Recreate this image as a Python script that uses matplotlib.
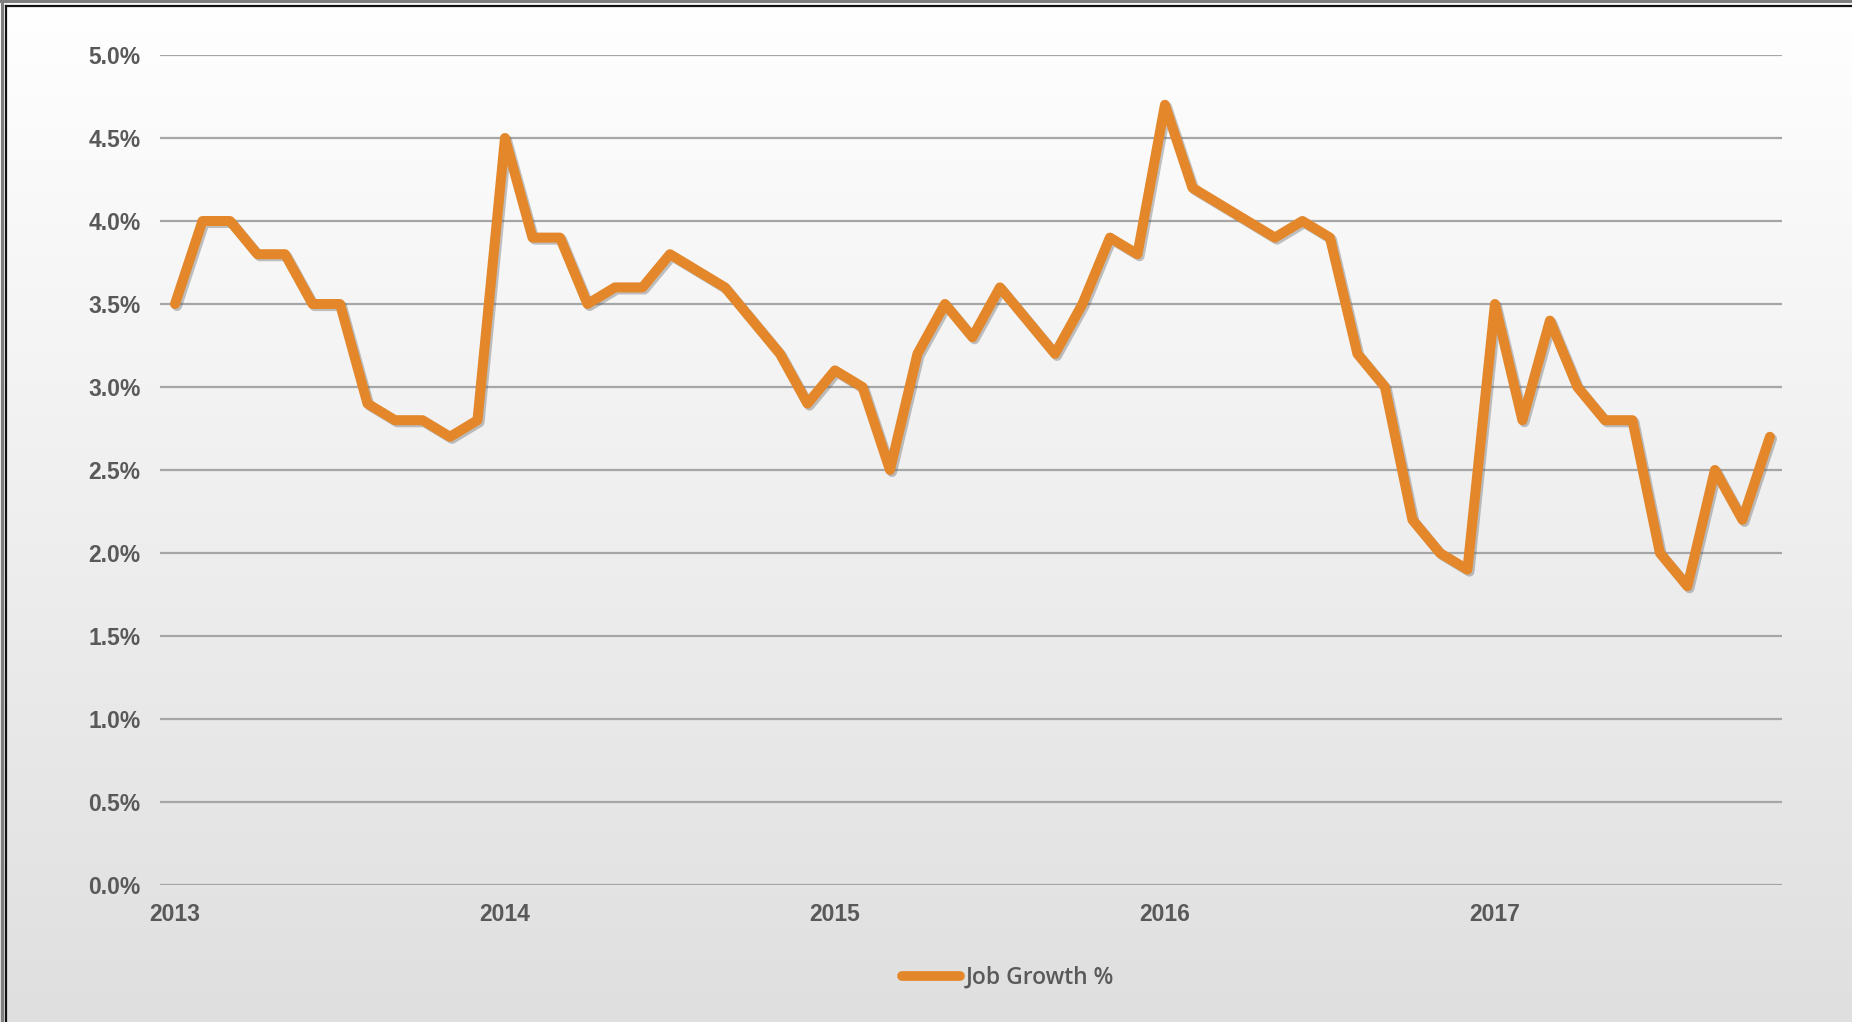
import numpy as np
import matplotlib
matplotlib.use("Agg")
import matplotlib.pyplot as plt
import matplotlib.patheffects as pe
from matplotlib.ticker import FuncFormatter

# ---- data ----
years = ["2013", "2014", "2015", "2016", "2017"]
job_growth = [3.5, 4.0, 4.0, 3.8, 3.8, 3.5, 3.5, 2.9, 2.8, 2.8, 2.7, 2.8,
              4.5, 3.9, 3.9, 3.5, 3.6, 3.6, 3.8, 3.7, 3.6, 3.4, 3.2, 2.9,
              3.1, 3.0, 2.5, 3.2, 3.5, 3.3, 3.6, 3.4, 3.2, 3.5, 3.9, 3.8,
              4.7, 4.2, 4.1, 4.0, 3.9, 4.0, 3.9, 3.2, 3.0, 2.2, 2.0, 1.9,
              3.5, 2.8, 3.4, 3.0, 2.8, 2.8, 2.0, 1.8, 2.5, 2.2, 2.7]
y_ticks = [0.0, 0.5, 1.0, 1.5, 2.0, 2.5, 3.0, 3.5, 4.0, 4.5, 5.0]
series_name = "Job Growth %"

W, H = 1852, 1022
fig = plt.figure(figsize=(W / 100, H / 100), dpi=100)

# background gradient
bg = fig.add_axes([0, 0, 1, 1], zorder=-10)
grad = np.linspace(1.0, 0.875, 256).reshape(-1, 1)
bg.imshow(np.dstack([grad, grad, grad]), aspect="auto", extent=[0, 1, 0, 1],
          origin="upper", interpolation="bicubic")
bg.set_xlim(0, 1); bg.set_ylim(0, 1)
bg.axis("off")
# frame lines (top/left)
bg.plot([0, 1], [1 - 1.5 / H, 1 - 1.5 / H], color="#7f7f7f", lw=2.2, transform=bg.transAxes, clip_on=False)
bg.plot([1.5 / W, 1.5 / W], [0, 1], color="#7f7f7f", lw=2.2, transform=bg.transAxes, clip_on=False)
bg.plot([6 / W, 1], [1 - 6 / H, 1 - 6 / H], color="#111111", lw=1.6, transform=bg.transAxes, clip_on=False)
bg.plot([6 / W, 6 / W], [0, 1 - 6 / H], color="#111111", lw=1.6, transform=bg.transAxes, clip_on=False)

L, R, T, B = 160, 1782, 55, 885
ax = fig.add_axes([L / W, 1 - B / H, (R - L) / W, (B - T) / H])
ax.patch.set_alpha(0)

x = np.arange(len(job_growth))
vals = np.array(job_growth) / 100.0
ax.plot(x, vals, color="#E3872A", lw=7.2, solid_joinstyle="round", solid_capstyle="round",
        label=series_name, zorder=3,
        path_effects=[pe.SimpleLineShadow(offset=(1.5, -1.5), shadow_color="#555555", alpha=0.35),
                      pe.Normal()])

ax.set_ylim(0, 0.05)
ax.set_xlim(-0.545, 58.44)
ax.set_yticks([v / 100 for v in y_ticks])
ax.yaxis.set_major_formatter(FuncFormatter(lambda v, p: f"{v*100:.1f}%"))
ax.set_xticks(np.arange(len(years)) * 12)
ax.set_xticklabels(years)
ax.grid(axis="y", color="#a6a6a6", lw=1.6)
ax.set_axisbelow(True)
for s in ax.spines.values():
    s.set_visible(False)
ax.tick_params(length=0, colors="#595959")
for lab in ax.get_yticklabels() + ax.get_xticklabels():
    lab.set_fontfamily("Liberation Sans")
    lab.set_fontweight("bold")
    lab.set_fontsize(16.5)
    lab.set_color("#595959")
ax.tick_params(axis="y", pad=14)
ax.tick_params(axis="x", pad=13)

leg = fig.legend(loc="center", bbox_to_anchor=(1008 / W, 1 - 978 / H), frameon=False,
                 handlelength=2.5, handletextpad=0.25,
                 prop={"family": "Open Sans", "weight": "semibold", "size": 16.5})
for t in leg.get_texts():
    t.set_color("#595959")
for h in leg.get_lines():
    h.set_path_effects([])
    h.set_linewidth(7)

fig.savefig("out.png", dpi=100)
